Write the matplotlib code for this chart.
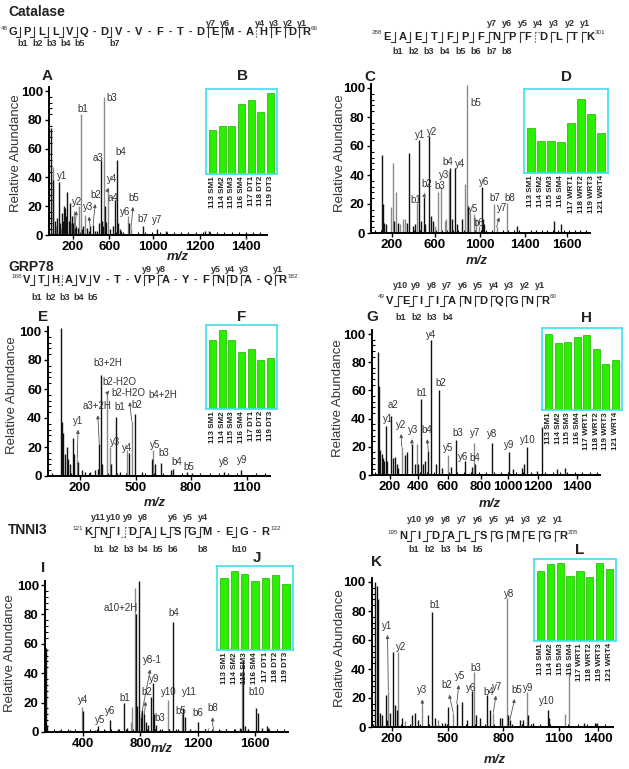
import numpy as np
import matplotlib
matplotlib.use('Agg')
import matplotlib.pyplot as plt
from matplotlib.ticker import MultipleLocator

plt.rcParams['font.family'] = ['Liberation Sans', 'DejaVu Sans']

W, H = 629, 769

# ---------------- spectra (m/z, relative abundance) ----------------
# Catalase 48-66 (A)
A_black_mz = [47, 63, 75, 89, 99, 110, 124, 131, 138, 145, 151, 158, 169, 179, 190, 200, 214, 221, 231, 262,
              269, 297, 308, 318, 339, 353, 367, 380, 392, 401, 408, 422, 432, 457, 478, 488, 502, 512, 523, 533,
              585, 684, 781, 843, 1116, 1140]
A_black_int = [74, 38, 10, 12, 37, 8, 15, 10, 20, 19, 13, 30, 10, 22, 13, 8, 5, 6, 5, 4,
               6, 5, 3, 6, 7, 3, 3, 8, 52, 10, 6, 20, 9, 4, 6, 24, 52, 8, 4, 3,
               8, 6, 4, 3, 3, 3]
A_gray_mz = [58, 82, 117, 186, 207, 242, 256, 283, 415, 443, 578, 602]
A_gray_int = [47, 6, 5, 8, 17, 20, 84, 14, 96, 32, 13, 5]
A_labels = [('y1', 99, 37, 3.5, 6, False), ('b1', 256, 84, 2, 5, False), ('b3', 415, 96, 8, -1, False),
            ('a3', 392, 52, -3, 2, False), ('b4', 502, 52, 4.5, 8, False), ('y4', 443, 32, 4, 10, True),
            ('a4', 488, 24, -2, 2, False), ('b2', 339, 7, 3, 30, True), ('y2', 214, 5, 2, 26, True),
            ('y3', 318, 6, -2, 19, True), ('y6', 578, 13, -2, 4, False), ('b5', 602, 5, 3, 30, True),
            ('b7', 684, 6, 0, 7, False), ('y7', 781, 4, 0, 9, False)]

# Catalase 288-301 (C)
C_black_mz = [112, 122, 131, 143, 221, 257, 333, 356, 389, 407, 444, 462, 489, 502, 536, 552, 570, 723, 737, 771,
              791, 829, 883, 1015, 1024, 1033, 1325, 1661, 1722]
C_black_int = [54, 20, 7, 6, 8, 7, 7, 55, 5, 6, 64, 8, 25, 6, 67, 12, 8, 45, 10, 45,
               6, 10, 18, 32, 10, 6, 5, 8, 6]
C_gray_mz = [188, 212, 239, 272, 302, 317, 423, 588, 618, 639, 674, 687, 714, 858, 874, 904, 940, 958, 982, 1120,
             1144, 1235]
C_gray_int = [18, 48, 28, 6, 10, 10, 21, 5, 28, 32, 8, 10, 43, 34, 102, 14, 13, 10, 5, 20,
              4, 21]
C_labels = [('b5', 874, 102, 9, -18, False), ('y1', 444, 64, 1, 5, False), ('y2', 536, 67, 3, 4, False),
            ('y3', 639, 32, 3, 12, False), ('b4', 714, 43, -1, 9, False), ('y4', 771, 45, 5, 4, False),
            ('b3', 618, 28, 1, 6, False), ('b2', 489, 25, 3, 13, True), ('b1', 423, 21, -1, 3, False),
            ('y6', 1015, 32, 2, 5, False), ('y5', 940, 13, -1, 5, False), ('b6', 958, 10, 3, -5, False),
            ('b7', 1120, 20, 1, 6, False), ('b8', 1235, 21, 3, 5, False), ('y7', 1144, 4, 5, 19, True)]

# GRP78 166-182 (E)
E_black_mz = [97, 103, 110, 119, 128, 137, 146, 161, 169, 191, 209, 227, 254, 281, 299, 304, 312, 320, 367, 394,
              416, 463, 499, 533, 587, 605, 636, 691, 704, 776, 803, 902, 979, 1069]
E_black_int = [102, 37, 30, 15, 20, 12, 8, 26, 15, 10, 4, 3, 3, 4, 5, 22, 70, 8, 8, 41,
               3, 16, 43, 3, 12, 8, 9, 4, 5, 3, 2, 1.5, 3, 4]
E_gray_mz = [185, 344, 362, 455, 479, 596]
E_gray_int = [12, 57, 20, 18, 38, 18]
E_labels = [('b3+2H', 312, 70, 7, 11, False), ('b2-H2O', 344, 57, 13, 11, True),
            ('b2-H2O', 479, 38, -3, 28, True), ('b4+2H', 499, 43, 27, 19, False), ('b2', 499, 43, 1, 9, False),
            ('b1', 394, 41, 4, 10, False), ('a3+2H', 304, 22, -2, 38, True), ('y1', 185, 12, 1, 38, True),
            ('y3', 362, 20, 5, 5, False), ('y4', 455, 18, 0, 2, False), ('y5', 596, 18, 2, 5, False),
            ('b3', 636, 9, 3, 10, False), ('b4', 704, 5, 3, 7, False), ('b5', 776, 3, 2, 5, False),
            ('y8', 979, 3, 0, 10, False), ('y9', 1069, 4, 1, 10, False)]

# GRP78 49-60 (G)
G_black_mz = [117, 126, 134, 144, 153, 161, 173, 182, 207, 222, 234, 245, 256, 301, 313, 347, 369, 391, 410, 425,
              437, 459, 475, 509, 531, 549, 612, 646, 707, 756, 775, 887, 1004, 1029, 1090, 1108, 1128, 1192, 1228, 1331,
              1383]
G_black_int = [87, 63, 18, 15, 12, 10, 35, 10, 42, 12, 13, 8, 5, 14, 16, 22, 8, 8, 54, 8,
               10, 17, 96, 8, 60, 5, 6, 25, 10, 6, 8, 23, 16, 4, 5, 8, 20, 3, 34, 4,
               5]
G_gray_mz = [279, 380, 590, 768]
G_gray_int = [20, 22, 14, 23]
G_labels = [('y4', 475, 96, 0, 5, False), ('b2', 531, 60, 2, 7, False), ('b1', 410, 54, 1, 6, False),
            ('a2', 207, 42, 2, 11, False), ('y1', 173, 35, 2, 7, False), ('y2', 279, 20, -1, 22, True),
            ('y3', 347, 22, 1, 14, True), ('b4', 459, 17, -2, 21, True), ('y5', 590, 14, 0, 7, False),
            ('b3', 646, 25, 2, 7, False), ('y6', 707, 10, -2, 4, False), ('b4', 756, 6, 3, 9, False),
            ('y7', 768, 23, 1, 10, False), ('y8', 887, 23, 0, 9, False), ('y9', 1004, 16, 0, 7, False),
            ('y10', 1128, 20, 1, 7, False)]

# TNNI3 121-132 (I)
I_black_mz = [133, 140, 148, 155, 242, 312, 399, 486, 509, 555, 590, 646, 687, 710, 771, 780, 794, 806, 816, 830,
              841, 854, 875, 887, 896, 910, 938, 1026, 1063, 1100, 1109, 1147, 1205, 1356, 1460, 1495, 1519, 1530, 1606, 1622,
              1648, 1681, 1690, 1000, 1180, 1250, 1400, 1550]
I_black_int = [62, 58, 57, 5, 1.5, 1.5, 14, 1.5, 4, 1.5, 8, 2, 20, 3, 80, 18, 103, 10, 15, 12,
               7, 5, 24, 33, 12, 5, 2, 75, 2, 16, 10, 2, 7, 1.5, 2, 3, 48, 4, 16, 13,
               3, 4, 3, 2, 1.5, 2, 2, 2]
I_gray_mz = [393, 736, 745, 764, 992, 1089, 1272, 1305, 1512]
I_gray_int = [17, 7, 17, 98, 22, 12, 3, 4, 40]
I_labels = [('a10+2H', 764, 98, -14, -20, False), ('b4', 1026, 75, 1, 9, False), ('y4', 393, 17, 1, 7, False),
            ('y5', 509, 4, 2, 6, False), ('y6', 590, 8, 0, 9, False), ('b1', 687, 20, 1, 5, False),
            ('y8-1', 806, 10, 11, 57, True), ('b2', 830, 12, 2, 22, True), ('y9', 887, 33, 2, 4, False),
            ('b3', 910, 5, 4, 7, False), ('y10', 992, 22, 1, 8, False), ('y11', 1100, 16, 6, 16, False),
            ('b5', 1089, 12, -1, 3, False), ('b6', 1205, 7, 0, 9, False), ('b8', 1305, 4, 0, 18, True),
            ('b10', 1606, 16, 1, 16, False)]

# TNNI3 195-205 (K)
K_black_mz = [110, 119, 128, 137, 149, 168, 173, 191, 209, 218, 227, 254, 308, 325, 343, 397, 415, 433, 469, 487,
              505, 550, 577, 603, 630, 652, 675, 713, 729, 783, 795, 824, 836, 892, 908, 935, 962, 1043, 1048, 1236,
              1294, 1306]
K_black_int = [100, 97, 88, 10, 8, 22, 5, 10, 52, 15, 12, 6, 8, 10, 5, 8, 79, 6, 3, 3,
               14, 16, 17, 5, 25, 8, 6, 22, 12, 6, 6, 8, 5, 5, 5, 8, 3, 12, 6, 3,
               3, 3]
K_gray_mz = [182, 236, 272, 365, 447, 531, 644, 747, 819, 928, 1132, 1154]
K_gray_int = [25, 52, 4, 15, 5, 10, 38, 10, 89, 24, 9, 38]
K_labels = [('b1', 415, 79, 3, 7, False), ('y8', 819, 89, 2, 4, False), ('y1', 182, 25, -1, 65, True),
            ('y2', 236, 52, 3, 5, False), ('y3', 365, 15, 0, 15, True), ('b2', 531, 10, -6, 27, True),
            ('y5', 550, 16, 3, 28, True), ('b3', 644, 38, 2, 4, False), ('y6', 630, 25, 0, 3, False),
            ('b4', 713, 22, 2, 3, False), ('y7', 747, 10, 4, 26, True), ('b5', 836, 5, 7, 30, True),
            ('y9', 928, 24, 1, 4, False), ('y10', 1043, 12, -2, 9, False)]

# axis ticks as printed on the figure
A_xticks, A_xticklabels = [200, 450, 755, 1081, 1401], ['200', '600', '1000', '1200', '1400']
C_xticks, C_xticklabels = [200, 588, 994, 1400, 1779], ['200', '600', '1000', '1400', '1600']
E_xticks, E_xticklabels = [200, 500, 800, 1100], ['200', '500', '800', '1100']
G_xticks = [200, 389, 592, 815, 998, 1200, 1464]
G_xticklabels = ['200', '400', '600', '800', '1000', '1200', '1400']
I_xticks, I_xticklabels = [400, 800, 1200, 1600], ['400', '800', '1200', '1600']
K_xticks, K_xticklabels = [200, 501, 800, 1100, 1311], ['200', '500', '800', '1100', '1400']

# ---------------- iTRAQ reporter insets ----------------
DT_names = ['113 SM1', '114 SM2', '115 SM3', '116 SM4', '117 DT1', '118 DT2', '119 DT3']
WRT_names = ['113 SM1', '114 SM2', '115 SM3', '116 SM4', '117 WRT1', '118 WRT2', '119 WRT3', '121 WRT4']
B_vals = [52, 57, 57, 82, 87, 73, 95]
D_vals = [54, 38.5, 38.5, 37.3, 60, 88.5, 70.6, 47.6]
F_vals = [82, 94, 82, 68, 71, 58.5, 61]
H_vals = [93, 82, 83, 88.6, 91, 75, 56.7, 61]
J_vals = [85.3, 94.4, 90, 82.5, 85.3, 89.3, 78]
L_vals = [85.7, 94, 95, 79.6, 85.7, 78, 95, 87.8]


def px_rect(l, t, r, b):
    return [l / W, 1 - b / H, (r - l) / W, (b - t) / H]


fig = plt.figure(figsize=(W / 100, H / 100), dpi=100)
fig.patch.set_facecolor('white')

# overlay in pixel units for titles, sequences and captions
ov = fig.add_axes([0, 0, 1, 1])
ov.set_xlim(0, W)
ov.set_ylim(H, 0)
ov.axis('off')


def spectrum(l, r, y0, s, xlim, bmz, bint, gmz, gint, labels, xticks, xticklabels):
    top = y0 - 103 * s
    ax = fig.add_axes(px_rect(l, top, r, y0))
    ax.patch.set_alpha(0)
    ax.vlines(gmz, 0, gint, colors='#8a8a8a', lw=1.0)
    ax.vlines(bmz, 0, bint, colors='#111111', lw=1.0)
    ax.set_xlim(*xlim)
    ax.set_ylim(0, 103)
    ax.set_yticks([0, 20, 40, 60, 80, 100])
    ax.set_xticks(xticks)
    ax.set_xticklabels(xticklabels)
    ax.yaxis.set_minor_locator(MultipleLocator(4))
    ax.xaxis.set_minor_locator(MultipleLocator(50))
    ax.tick_params(which='major', labelsize=9.5, width=1, length=3, pad=1.5)
    ax.tick_params(which='minor', direction='in', width=0.8, length=2)
    for lb in ax.get_xticklabels() + ax.get_yticklabels():
        lb.set_fontweight('bold')
    for side in ['top', 'right']:
        ax.spines[side].set_visible(False)
    for side in ['left', 'bottom']:
        ax.spines[side].set_linewidth(1.4)
    for txt, x, y, dx, dy, lead in labels:
        kw = dict(xy=(x, y), xytext=(dx * 0.72, dy * 0.72), textcoords='offset points',
                  ha='center', va='center', fontsize=7, color='#333333')
        if lead:
            kw['arrowprops'] = dict(arrowstyle='<|-', color='#555555', lw=0.6,
                                    mutation_scale=5, shrinkA=1, shrinkB=0)
        ax.annotate(txt, **kw)
    return ax


def inset(l, t, r, b, names, vals):
    ax = fig.add_axes(px_rect(l, t, r, b))
    ax.set_facecolor('white')
    x = np.arange(len(vals))
    ax.bar(x, vals, width=0.74, color='#2af000', edgecolor='#1fb000', lw=0.5)
    ax.set_xlim(-0.68, len(vals) - 0.32)
    ax.set_ylim(0, 100)
    ax.set_yticks([])
    ax.set_xticks(x)
    ax.set_xticklabels(names, rotation=90, fontsize=5.8, fontweight='bold', color='#222222')
    ax.tick_params(axis='x', length=0, pad=1.5)
    for sp in ax.spines.values():
        sp.set_color('#40e0f0')
        sp.set_linewidth(1.2)
    return ax


def draw_seq(res, b_ions, y_ions, x0, x1, y, top_y, bot_y, start, end, dotted=()):
    n = len(res)
    gaps = [((i + 1) in b_ions, (n - 1 - i) in y_ions) for i in range(n - 1)]
    w = [1.0 if (bb or yy) else 1.45 for bb, yy in gaps]
    cum = np.concatenate([[0], np.cumsum(w)])
    xs = x0 + (x1 - x0) * cum / cum[-1]
    for ch, xc in zip(res, xs):
        ov.text(xc, y, ch, ha='center', va='center', fontsize=8, fontweight='bold', color='#222222')
    for i, (bb, yy) in enumerate(gaps):
        xm = (xs[i] + xs[i + 1]) / 2
        if bb or yy:
            ls = ':' if i in dotted else '-'
            ov.plot([xm, xm], [y - 5, y + 5], color='#333333', lw=0.8, ls=ls)
            if yy:
                ov.plot([xm, xm + 4], [y - 5, y - 5], color='#333333', lw=0.8, ls=ls)
                ov.text(xm + 3, top_y, 'y%d' % (n - 1 - i), ha='center', va='center',
                        fontsize=6.5, fontweight='bold', color='#333333')
            if bb:
                ov.plot([xm - 4, xm], [y + 5, y + 5], color='#333333', lw=0.8, ls=ls)
                ov.text(xm + 3, bot_y, 'b%d' % (i + 1), ha='center', va='center',
                        fontsize=6.5, fontweight='bold', color='#333333')
        else:
            ov.text(xm, y, '-', ha='center', va='center', fontsize=7, fontweight='bold', color='#222222')
    ov.text(xs[0] - 5, y - 4, str(start), ha='right', va='center', fontsize=4.5, color='#333333')
    ov.text(xs[-1] + 5, y - 4, str(end), ha='left', va='center', fontsize=4.5, color='#333333')


# protein names
for name, yy in [('Catalase', 12), ('GRP78', 267), ('TNNI3', 530)]:
    ov.text(8, yy, name, ha='left', va='center', fontsize=10, fontweight='bold', color='#222222')

# sequences with fragment brackets
draw_seq('GPLLVQDVVFTDEMAHFDR', {1, 2, 3, 4, 5, 7}, {1, 2, 3, 4, 6, 7}, 13, 306, 32, 23, 43, 48, 66, dotted=(14,))
draw_seq('EAETFPFNPFDLTK', set(range(1, 9)), set(range(1, 8)), 387, 590, 37, 23, 52, 288, 301, dotted=(9,))
draw_seq('VTHAVVTVPAYFNDAQR', {1, 2, 3, 4, 5}, {1, 3, 4, 5, 8, 9}, 27, 282, 280, 269, 298, 166, 182, dotted=(2,))
draw_seq('VEIIANDQGNR', {1, 2, 3, 4}, set(range(1, 11)), 390, 545, 301, 286, 317, 49, 60)
draw_seq('KNIDALSGMEGR', {1, 2, 3, 4, 5, 6, 8, 10}, {4, 5, 6, 8, 9, 10, 11}, 88, 265, 532, 517, 549, 121, 132,
         dotted=(2,))
draw_seq('NIDALSGMEGR', {1, 2, 3, 4, 5}, set(range(1, 11)), 403, 563, 536, 520, 549, 195, 205)

# spectra
spectrum(49, 267, 235, 1.44, (33, 1546), A_black_mz, A_black_int, A_gray_mz, A_gray_int, A_labels,
         A_xticks, A_xticklabels)
spectrum(371, 590, 233, 1.45, (11, 1986), C_black_mz, C_black_int, C_gray_mz, C_gray_int, C_labels,
         C_xticks, C_xticklabels)
spectrum(48, 270, 476, 1.45, (27, 1226), E_black_mz, E_black_int, E_gray_mz, E_gray_int, E_labels,
         E_xticks, E_xticklabels)
spectrum(372, 600, 475, 1.41, (78, 1620), G_black_mz, G_black_int, G_gray_mz, G_gray_int, G_labels,
         G_xticks, G_xticklabels)
spectrum(45, 288, 732, 1.47, (138, 1829), I_black_mz, I_black_int, I_gray_mz, I_gray_int, I_labels,
         I_xticks, I_xticklabels)
spectrum(372, 613, 727, 1.45, (94, 1391), K_black_mz, K_black_int, K_gray_mz, K_gray_int, K_labels,
         K_xticks, K_xticklabels)

# reporter-ion insets
inset(206, 89, 277, 174, DT_names, B_vals)
inset(524, 89, 608, 173, WRT_names, D_vals)
inset(206, 325, 277, 409, DT_names, F_vals)
inset(542, 328, 622, 410, WRT_names, H_vals)
inset(217, 566, 293, 650, DT_names, J_vals)
inset(534, 559, 616, 641, WRT_names, L_vals)

# panel letters
for lt, x, y in [('A', 47, 76), ('B', 242, 76), ('C', 370, 77), ('D', 567, 77), ('E', 43, 317), ('F', 242, 317),
                 ('G', 372, 317), ('H', 587, 318), ('I', 43, 568), ('J', 257, 558), ('K', 377, 562),
                 ('L', 580, 550)]:
    ov.text(x, y, lt, ha='center', va='center', fontsize=11, fontweight='bold', color='#222222')

# axis captions
for x, y in [(16, 153), (340, 153), (12, 395), (338, 398), (10, 653), (340, 648)]:
    ov.text(x, y, 'Relative Abundance', rotation=90, ha='center', va='center', fontsize=9.5, color='#333333')
for x, y in [(178, 257), (477, 261), (155, 503), (490, 504), (162, 749), (495, 760)]:
    ov.text(x, y, 'm/z', ha='center', va='center', fontsize=9.5, fontweight='bold', style='italic',
            color='#222222')

fig.savefig('out.png', dpi=100, facecolor='white')
